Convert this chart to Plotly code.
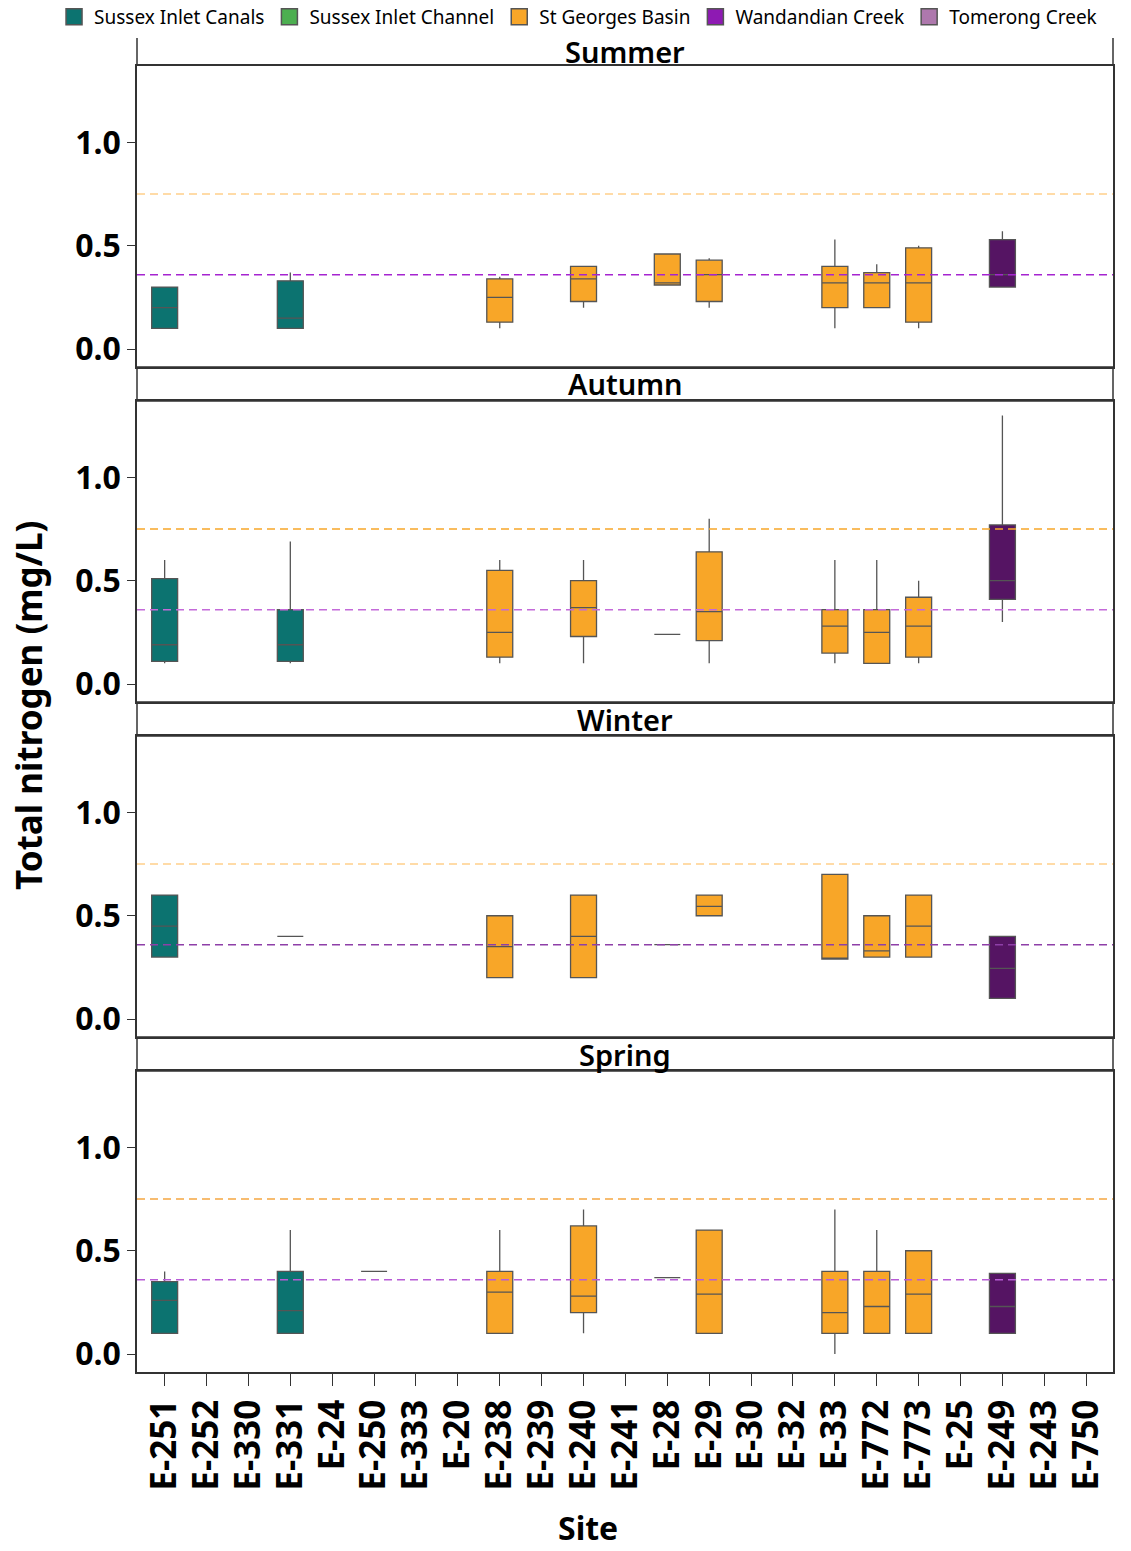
import plotly.graph_objects as go

# ---------------- data ----------------
sites = ["E-251", "E-252", "E-330", "E-331", "E-24", "E-250", "E-333", "E-20",
         "E-238", "E-239", "E-240", "E-241", "E-28", "E-29", "E-30", "E-32",
         "E-33", "E-772", "E-773", "E-25", "E-249", "E-243", "E-750"]

seasons = ["Summer", "Autumn", "Winter", "Spring"]

regions = ["Sussex Inlet Canals", "Sussex Inlet Channel", "St Georges Basin",
           "Wandandian Creek", "Tomerong Creek"]
legend_colors = ["#0c7370", "#4caf50", "#f8a628", "#8e1ab3", "#ae78ad"]
box_colors = {"Sussex Inlet Canals": "#0c7370", "St Georges Basin": "#f8a628",
              "Wandandian Creek": "#551463"}

C, B, W = "Sussex Inlet Canals", "St Georges Basin", "Wandandian Creek"

summer_sites = ["E-251", "E-331", "E-238", "E-240", "E-28", "E-29", "E-33", "E-772", "E-773", "E-249"]
summer_region = [C, C, B, B, B, B, B, B, B, W]
summer_lo = [0.10, 0.10, 0.10, 0.20, 0.31, 0.20, 0.10, 0.20, 0.10, 0.30]
summer_q1 = [0.10, 0.10, 0.13, 0.23, 0.31, 0.23, 0.20, 0.20, 0.13, 0.30]
summer_med = [0.20, 0.15, 0.25, 0.34, 0.32, 0.36, 0.32, 0.32, 0.32, 0.36]
summer_q3 = [0.30, 0.33, 0.34, 0.40, 0.46, 0.43, 0.40, 0.37, 0.49, 0.53]
summer_hi = [0.30, 0.37, 0.35, 0.40, 0.46, 0.44, 0.53, 0.41, 0.50, 0.57]

autumn_sites = ["E-251", "E-331", "E-238", "E-240", "E-28", "E-29", "E-33", "E-772", "E-773", "E-249"]
autumn_region = [C, C, B, B, B, B, B, B, B, W]
autumn_lo = [0.10, 0.10, 0.10, 0.10, 0.24, 0.10, 0.10, 0.10, 0.10, 0.30]
autumn_q1 = [0.11, 0.11, 0.13, 0.23, 0.24, 0.21, 0.15, 0.10, 0.13, 0.41]
autumn_med = [0.19, 0.19, 0.25, 0.37, 0.24, 0.35, 0.28, 0.25, 0.28, 0.50]
autumn_q3 = [0.51, 0.36, 0.55, 0.50, 0.24, 0.64, 0.36, 0.36, 0.42, 0.77]
autumn_hi = [0.60, 0.69, 0.60, 0.60, 0.24, 0.80, 0.60, 0.60, 0.50, 1.30]

winter_sites = ["E-251", "E-331", "E-238", "E-240", "E-28", "E-29", "E-33", "E-772", "E-773", "E-249"]
winter_region = [C, C, B, B, B, B, B, B, B, W]
winter_lo = [0.30, 0.40, 0.20, 0.20, 0.36, 0.50, 0.29, 0.30, 0.30, 0.10]
winter_q1 = [0.30, 0.40, 0.20, 0.20, 0.36, 0.50, 0.29, 0.30, 0.30, 0.10]
winter_med = [0.45, 0.40, 0.35, 0.40, 0.36, 0.545, 0.29, 0.33, 0.45, 0.245]
winter_q3 = [0.60, 0.40, 0.50, 0.60, 0.36, 0.60, 0.70, 0.50, 0.60, 0.40]
winter_hi = [0.60, 0.40, 0.50, 0.60, 0.36, 0.60, 0.70, 0.50, 0.60, 0.40]

spring_sites = ["E-251", "E-331", "E-250", "E-238", "E-240", "E-28", "E-29", "E-33", "E-772", "E-773", "E-249"]
spring_region = [C, C, C, B, B, B, B, B, B, B, W]
spring_lo = [0.10, 0.10, 0.40, 0.10, 0.10, 0.37, 0.10, 0.00, 0.10, 0.10, 0.10]
spring_q1 = [0.10, 0.10, 0.40, 0.10, 0.20, 0.37, 0.10, 0.10, 0.10, 0.10, 0.10]
spring_med = [0.26, 0.21, 0.40, 0.30, 0.28, 0.37, 0.29, 0.20, 0.23, 0.29, 0.23]
spring_q3 = [0.35, 0.40, 0.40, 0.40, 0.62, 0.37, 0.60, 0.40, 0.40, 0.50, 0.39]
spring_hi = [0.40, 0.60, 0.40, 0.60, 0.70, 0.37, 0.60, 0.70, 0.60, 0.50, 0.39]

upper_threshold = 0.75
lower_threshold = 0.36

y_ticks = [0.0, 0.5, 1.0]

# ---------------- styling ----------------
season_data = [
    (summer_sites, summer_region, summer_lo, summer_q1, summer_med, summer_q3, summer_hi),
    (autumn_sites, autumn_region, autumn_lo, autumn_q1, autumn_med, autumn_q3, autumn_hi),
    (winter_sites, winter_region, winter_lo, winter_q1, winter_med, winter_q3, winter_hi),
    (spring_sites, spring_region, spring_lo, spring_q1, spring_med, spring_q3, spring_hi),
]
orange_line_colors = ["#ffcf8a", "#f8a628", "#ffcf8a", "#f5a742"]
purple_line_colors = ["#a524d0", "#c46ad9", "#8e3fa8", "#b85cd6"]

# paper domains (height 1334 px plotting region)
domains = [(0.75337, 0.97901), (0.50225, 0.72789), (0.25112, 0.47676), (0.0, 0.22564)]
strip_ranges = [(0.97901, 1.0), (0.72789, 0.75337), (0.47676, 0.50225), (0.22564, 0.25112)]

FRAME = "#333333"
fig = go.Figure()

for r, (st, rg, lo, q1, med, q3, hi) in enumerate(season_data, start=1):
    xa = "x" if r == 1 else f"x{r}"
    ya = "y" if r == 1 else f"y{r}"
    # invisible trace to register all categories
    fig.add_trace(go.Scatter(x=sites, y=[None] * len(sites), mode="markers",
                             showlegend=False, hoverinfo="skip", xaxis=xa, yaxis=ya))
    for reg in [C, B, W]:
        idx = [i for i, g in enumerate(rg) if g == reg]
        if not idx:
            continue
        fig.add_trace(go.Box(
            x=[st[i] for i in idx],
            lowerfence=[lo[i] for i in idx],
            q1=[q1[i] for i in idx],
            median=[med[i] for i in idx],
            q3=[q3[i] for i in idx],
            upperfence=[hi[i] for i in idx],
            fillcolor=box_colors[reg],
            line=dict(color="#555555", width=1.3),
            width=0.62, whiskerwidth=0, boxpoints=False,
            name=reg, showlegend=False, xaxis=xa, yaxis=ya))

# legend entries
for name, col in zip(regions, legend_colors):
    fig.add_trace(go.Scatter(x=[None], y=[None], mode="markers", name=name,
                             marker=dict(symbol="square", size=16, color=col,
                                         line=dict(color="#555555", width=1.5)),
                             xaxis="x4", yaxis="y4"))

layout = dict(
    width=1131, height=1551,
    margin=dict(l=137, r=18, t=38, b=179, autoexpand=False),
    plot_bgcolor="white", paper_bgcolor="white",
    font=dict(family="Noto Sans", color="black"),
    showlegend=True,
    legend=dict(orientation="h", x=-0.085, y=1.0158, xanchor="left", yanchor="middle",
                font=dict(size=19, family="Noto Sans"), itemsizing="trace",
                bgcolor="rgba(0,0,0,0)"),
)

for r in range(1, 5):
    sfx = "" if r == 1 else str(r)
    bottom = (r == 4)
    layout[f"xaxis{sfx}"] = dict(
        type="category", categoryorder="array", categoryarray=sites,
        range=[-0.66, 22.64], anchor=f"y{sfx}", domain=[0, 1],
        showline=True, mirror=True, linecolor=FRAME, linewidth=1.5,
        showgrid=False, zeroline=False,
        ticks="outside" if bottom else "", ticklen=12, tickcolor=FRAME,
        showticklabels=bottom, tickangle=-90,
        tickmode="array", tickvals=sites, ticktext=sites,
        tickfont=dict(size=35, family="Noto Sans", weight="bold"),
        matches=None if r == 1 else "x",
    )
    layout[f"yaxis{sfx}"] = dict(
        domain=list(domains[r - 1]), anchor=f"x{sfx}",
        range=[-0.087, 1.37], tickvals=y_ticks, tickformat=".1f",
        ticks="outside", ticklen=8, tickcolor=FRAME,
        showline=True, mirror=True, linecolor=FRAME, linewidth=1.5,
        showgrid=False, zeroline=False,
        tickfont=dict(size=32, family="Noto Sans", weight="bold"),
    )

fig.update_layout(**layout)

shapes = []
annotations = []
for r in range(1, 5):
    sfx = "" if r == 1 else str(r)
    shapes.append(dict(type="line", xref=f"x{sfx} domain", yref=f"y{sfx}",
                       x0=0, x1=1, y0=upper_threshold, y1=upper_threshold,
                       line=dict(color=orange_line_colors[r - 1], width=1.5, dash="8px,5px"),
                       layer="above"))
    shapes.append(dict(type="line", xref=f"x{sfx} domain", yref=f"y{sfx}",
                       x0=0, x1=1, y0=lower_threshold, y1=lower_threshold,
                       line=dict(color=purple_line_colors[r - 1], width=1.5, dash="8px,5px"),
                       layer="above"))
    y0, y1 = strip_ranges[r - 1]
    if r == 1:
        for xx in (0, 1):
            shapes.append(dict(type="line", xref="paper", yref="paper",
                               x0=xx, x1=xx, y0=y0, y1=y1,
                               line=dict(color=FRAME, width=1.5)))
    else:
        shapes.append(dict(type="rect", xref="paper", yref="paper",
                           x0=0, x1=1, y0=y0, y1=y1,
                           line=dict(color=FRAME, width=1.5)))
    annotations.append(dict(text=seasons[r - 1], xref="paper", yref="paper",
                            x=0.5, y=(y0 + y1) / 2 + (0.0003 if r == 1 else 0),
                            showarrow=False, xanchor="center", yanchor="middle",
                            font=dict(size=29, family="Noto Sans", weight=600)))

annotations.append(dict(text="Total nitrogen (mg/L)", xref="paper", yref="paper",
                        x=-0.1117, y=0.5, textangle=-90, showarrow=False,
                        xanchor="center", yanchor="middle",
                        font=dict(size=35, family="Noto Sans", weight="bold")))
annotations.append(dict(text="Site", xref="paper", yref="paper",
                        x=0.462, y=-0.1165, showarrow=False,
                        xanchor="center", yanchor="middle",
                        font=dict(size=32, family="Noto Sans", weight="bold")))

fig.update_layout(shapes=shapes, annotations=annotations)

fig.write_html("out.html")
